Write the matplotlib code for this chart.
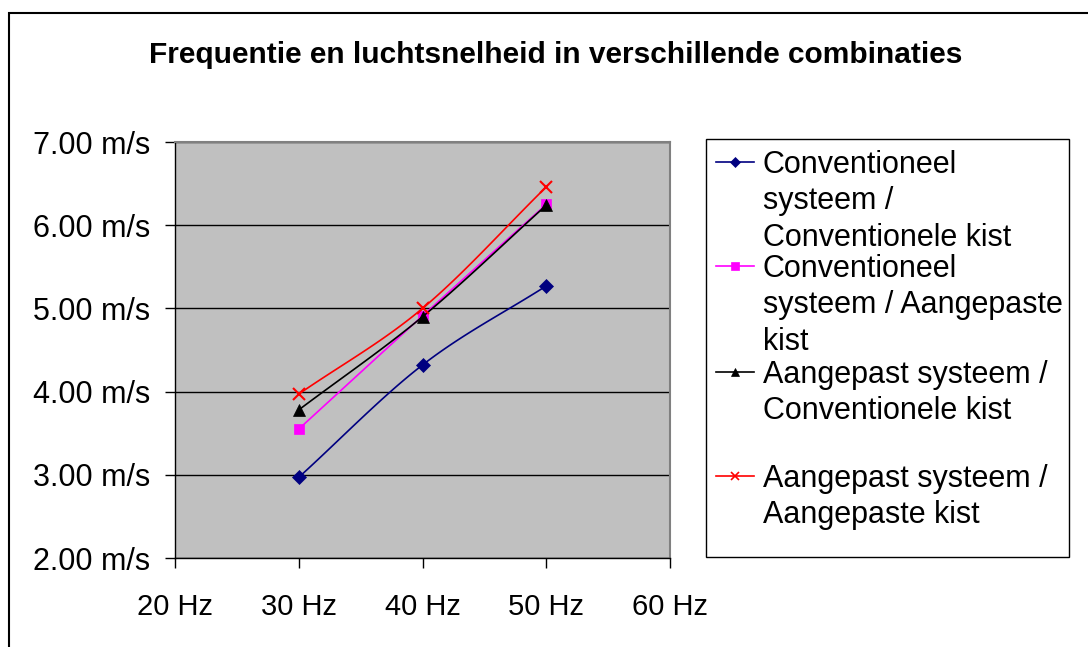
import numpy as np
import matplotlib
matplotlib.use('Agg')
import matplotlib.pyplot as plt
from matplotlib.lines import Line2D
from matplotlib.patches import Rectangle

plt.rcParams['font.family'] = ['Liberation Sans', 'DejaVu Sans']

freq = [30, 40, 50]
series_names = [
    'Conventioneel\nsysteem /\nConventionele kist',
    'Conventioneel\nsysteem / Aangepaste\nkist',
    'Aangepast systeem /\nConventionele kist',
    'Aangepast systeem /\nAangepaste kist',
]
conv_conv = [2.97, 4.32, 5.27]
conv_aang = [3.55, 4.91, 6.25]
aang_conv = [3.78, 4.90, 6.24]
aang_aang = [3.97, 5.00, 6.46]
values = [conv_conv, conv_aang, aang_conv, aang_aang]

colors = ['#000080', '#FF00FF', '#000000', '#FF0000']
markers = ['D', 's', '^', 'x']
msizes = [7, 7, 9, 9]

x_ticks = [20, 30, 40, 50, 60]
y_ticks = [2, 3, 4, 5, 6, 7]


def smooth(xs, ys, n=40):
    # catmull-rom curve through the points, like Excel's smoothed lines
    xs = np.asarray(xs, float)
    ys = np.asarray(ys, float)
    px = np.concatenate([[2 * xs[0] - xs[1]], xs, [2 * xs[-1] - xs[-2]]])
    py = np.concatenate([[2 * ys[0] - ys[1]], ys, [2 * ys[-1] - ys[-2]]])
    ox, oy = [], []
    t = np.linspace(0, 1, n)
    for i in range(1, len(px) - 2):
        for arr, out in ((px, ox), (py, oy)):
            p0, p1, p2, p3 = arr[i - 1], arr[i], arr[i + 1], arr[i + 2]
            out.extend(0.5 * ((2 * p1) + (-p0 + p2) * t
                              + (2 * p0 - 5 * p1 + 4 * p2 - p3) * t ** 2
                              + (-p0 + 3 * p1 - 3 * p2 + p3) * t ** 3))
    return np.array(ox), np.array(oy)


fig = plt.figure(figsize=(10.88, 6.47), dpi=100)
fig.patches.append(Rectangle((9 / 1088, -0.1), 2, 1.1 - 13 / 647,
                             transform=fig.transFigure, fill=False,
                             edgecolor='black', linewidth=1.5))

ax = fig.add_axes([175 / 1088, 1 - 558 / 647, 495 / 1088, 416 / 647])
ax.set_facecolor('#C0C0C0')
ax.set_xlim(20, 60)
ax.set_ylim(2, 7)
ax.set_xticks(x_ticks)
ax.set_xticklabels([f'{v} Hz' for v in x_ticks])
ax.set_yticks(y_ticks)
ax.set_yticklabels([f'{v:.2f} m/s' for v in y_ticks])
ax.yaxis.grid(True, color='black', linewidth=1.0)
ax.set_axisbelow(True)
for s in ['top', 'right']:
    ax.spines[s].set_color('#808080')
    ax.spines[s].set_linewidth(1.5)
ax.spines['left'].set_linewidth(1.0)
ax.spines['bottom'].set_linewidth(1.0)
ax.tick_params(axis='both', length=7, width=1.0, direction='out')
ax.tick_params(axis='y', pad=11, labelsize=22)
ax.tick_params(axis='x', pad=18, labelsize=21)

for vals, c, m, ms in zip(values, colors, markers, msizes):
    sx, sy = smooth(freq, vals)
    ax.plot(sx, sy, color=c, linewidth=1.2, clip_on=False)
    ax.plot(freq, vals, linestyle='none', marker=m, color=c, markersize=ms,
            markeredgewidth=1.5 if m == 'x' else 0.5, clip_on=False)

fig.text(556 / 1088, 1 - 63 / 647, 'Frequentie en luchtsnelheid in verschillende combinaties',
         ha='center', va='baseline', fontsize=21.5, fontweight='bold')

# legend box drawn by hand so the markers sit on the first line
fig.patches.append(Rectangle((706 / 1088, 1 - 557 / 647), 363 / 1088, 418 / 647,
                             transform=fig.transFigure, fill=False,
                             edgecolor='black', linewidth=1.0))
slot_top = [173, 277, 383, 487]
for name, c, m, top in zip(series_names, colors, markers, slot_top):
    ym = 1 - (top - 11) / 647
    fig.add_artist(Line2D([716 / 1088, 735 / 1088, 754 / 1088], [ym, ym, ym],
                          transform=fig.transFigure, color=c, linewidth=1.2,
                          marker=m, markevery=[1], markersize=5.5 if m != 'x' else 6,
                          markeredgewidth=1.2 if m == 'x' else 0.5))
    for k, line in enumerate(name.split('\n')):
        fig.text(763 / 1088, 1 - (top + k * 36.3) / 647, line,
                 ha='left', va='baseline', fontsize=22)

fig.savefig('out.png', dpi=100)
